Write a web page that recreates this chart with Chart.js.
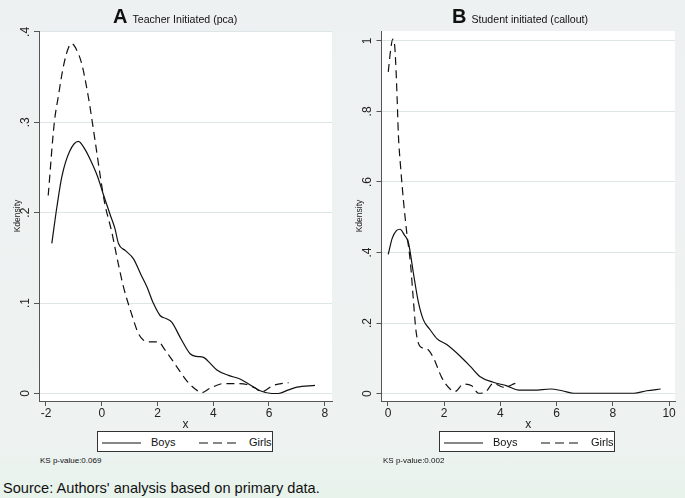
<!DOCTYPE html>
<html>
<head>
<meta charset="utf-8">
<script src="https://cdn.jsdelivr.net/npm/chart.js@4.4.1/dist/chart.umd.min.js"></script>
<style>
  html, body { margin: 0; padding: 0; }
  body {
    width: 685px; height: 498px; overflow: hidden; position: relative;
    background: linear-gradient(#eef1f1 0%, #eef2f1 88%, #e7f3eb 100%);
    font-family: "Liberation Sans", Arial, sans-serif; color: #111;
  }
  canvas { position: absolute; top: 0; }
  .ttl { position: absolute; top: 5.8px; line-height: 20px; white-space: nowrap; }
  .ttl b { font-size: 20px; font-weight: bold; }
  .ttl span { font-size: 10.6px; margin-left: 5px; }
  .leg { position: absolute; top: 431px; height: 21px; width: 176px; box-sizing: border-box;
         border: 1px solid #333; background: #fff; }
  .leg svg { position: absolute; left: 0; top: 0; }
  .leg .t { position: absolute; top: 3px; font-size: 11px; line-height: 14px; }
  .ks { position: absolute; top: 456px; font-size: 8px; line-height: 10px; }
  .src { position: absolute; left: 3px; top: 480px; font-size: 14.6px; line-height: 17px; }
</style>
</head>
<body>
<canvas id="cA" width="342" height="441" style="left:0"></canvas>
<canvas id="cB" width="343" height="441" style="left:342px"></canvas>

<div class="ttl" style="left:113px"><b>A</b><span>Teacher Initiated (pca)</span></div>
<div class="ttl" style="left:452px"><b>B</b><span>Student initiated (callout)</span></div>

<div class="leg" style="left:97px">
  <svg width="176" height="21"><line x1="4" y1="11" x2="43" y2="11" stroke="#111" stroke-width="1.2"/>
  <line x1="101" y1="11" x2="141" y2="11" stroke="#111" stroke-width="1.2" stroke-dasharray="9,5"/></svg>
  <div class="t" style="left:53px">Boys</div><div class="t" style="left:151px">Girls</div>
</div>
<div class="leg" style="left:439px">
  <svg width="176" height="21"><line x1="4" y1="11" x2="43" y2="11" stroke="#111" stroke-width="1.2"/>
  <line x1="101" y1="11" x2="141" y2="11" stroke="#111" stroke-width="1.2" stroke-dasharray="9,5"/></svg>
  <div class="t" style="left:53px">Boys</div><div class="t" style="left:151px">Girls</div>
</div>

<div class="ks" style="left:40px">KS p-value:0.069</div>
<div class="ks" style="left:383px">KS p-value:0.002</div>
<div class="src">Source: Authors' analysis based on primary data.</div>

<script>
// ---------- Data ----------
const boysA_x = [-1.79,-1.61,-1.43,-1.15,-0.84,-0.60,-0.37,-0.15,0.05,0.30,0.47,0.60,0.85,1.14,1.40,1.62,1.85,2.10,2.30,2.51,2.85,3.17,3.40,3.65,3.90,4.13,4.55,4.96,5.30,5.68,6.10,6.34,6.70,7.00,7.65];
const boysA_y = [0.166,0.206,0.240,0.268,0.279,0.270,0.256,0.240,0.221,0.198,0.183,0.166,0.158,0.149,0.132,0.118,0.100,0.086,0.083,0.079,0.060,0.044,0.041,0.040,0.033,0.026,0.020,0.016,0.010,0.003,0.000,0.000,0.004,0.007,0.009];
const girlsA_x = [-1.92,-1.70,-1.56,-1.38,-1.20,-1.08,-0.90,-0.72,-0.48,-0.24,-0.05,0.11,0.35,0.55,0.78,1.05,1.32,1.50,1.80,2.04,2.25,2.46,2.75,3.05,3.35,3.59,3.90,4.37,4.90,5.20,5.50,5.74,6.16,6.70];
const girlsA_y = [0.219,0.300,0.328,0.361,0.382,0.387,0.380,0.365,0.328,0.280,0.240,0.210,0.180,0.150,0.118,0.090,0.066,0.059,0.057,0.057,0.049,0.040,0.027,0.014,0.005,0.001,0.006,0.011,0.011,0.010,0.006,0.002,0.009,0.012];

const boysB_x = [0.01,0.15,0.30,0.43,0.58,0.73,0.90,1.08,1.26,1.50,1.74,2.09,2.57,2.92,3.28,3.75,4.23,4.65,5.20,5.78,6.20,6.60,8.75,9.20,9.70];
const boysB_y = [0.395,0.440,0.462,0.466,0.450,0.427,0.344,0.260,0.209,0.181,0.156,0.139,0.106,0.078,0.048,0.032,0.022,0.010,0.010,0.013,0.008,0.001,0.001,0.008,0.013];
const girlsB_x = [0.01,0.10,0.17,0.24,0.285,0.33,0.37,0.45,0.55,0.67,0.80,0.90,1.00,1.14,1.38,1.62,1.91,2.21,2.39,2.68,2.98,3.22,3.46,3.75,4.11,4.53];
const girlsB_y = [0.912,0.977,1.005,0.985,0.921,0.828,0.735,0.642,0.548,0.455,0.370,0.269,0.176,0.134,0.127,0.101,0.046,0.013,0.006,0.027,0.022,0.001,0.004,0.029,0.018,0.029];

const xTicksA = [-2, 0, 2, 4, 6, 8];
const yTicksA = [0, 0.1, 0.2, 0.3, 0.4];
const xTicksB = [0, 2, 4, 6, 8, 10];
const yTicksB = [0, 0.2, 0.4, 0.6, 0.8, 1];

const seriesLabels = ['Boys', 'Girls'];

// ---------- helpers ----------
function pts(xs, ys) { return xs.map((x, i) => ({x: x, y: ys[i]})); }
function fmtY(v) {
  if (v === 0) return '0';
  if (v === 1) return '1';
  return String(+v.toFixed(1)).replace(/^0/, '');
}

const plotBg = {
  id: 'plotBg',
  beforeDraw(chart) {
    const a = chart.chartArea, c = chart.ctx;
    c.save(); c.fillStyle = '#ffffff';
    c.fillRect(a.left, a.top, a.right - a.left, a.bottom - a.top);
    c.restore();
  }
};
const rotYLabels = {
  id: 'rotYLabels',
  afterDraw(chart) {
    const s = chart.scales.y, c = chart.ctx;
    c.save();
    c.font = '12px "Liberation Sans", Arial, sans-serif';
    c.fillStyle = '#222'; c.textAlign = 'center'; c.textBaseline = 'middle';
    s.ticks.forEach(t => {
      const y = s.getPixelForValue(t.value);
      c.save(); c.translate(chart.chartArea.left - 13.5, y); c.rotate(-Math.PI / 2);
      c.fillText(fmtY(t.value), 0, 0); c.restore();
    });
    c.restore();
  }
};

function makeChart(id, boys, girls, xr, yr, xt, yt, yw) {
  const line = { showLine: true, pointRadius: 0, borderColor: '#111', borderWidth: 1.2,
                 cubicInterpolationMode: 'monotone', fill: false };
  return new Chart(document.getElementById(id), {
    type: 'scatter',
    data: { datasets: [
      Object.assign({ label: seriesLabels[0], data: boys }, line),
      Object.assign({ label: seriesLabels[1], data: girls, borderDash: [8, 5] }, line)
    ]},
    options: {
      responsive: false, animation: false,
      layout: { padding: { left: 0, right: 10, top: 31, bottom: 0 } },
      plugins: { legend: { display: false }, tooltip: { enabled: false } },
      scales: {
        x: {
          type: 'linear', position: 'bottom', min: xr[0], max: xr[1],
          afterBuildTicks: s => { s.ticks = xt.map(v => ({value: v})); },
          afterFit: s => { s.height = 40; },
          ticks: { font: { size: 12, family: '"Liberation Sans", Arial, sans-serif' }, color: '#222',
                   padding: 0, maxRotation: 0, callback: v => String(v) },
          grid: { drawOnChartArea: false, drawTicks: true, tickLength: 5, tickColor: '#555' },
          border: { display: true, color: '#555', width: 1 },
          title: { display: true, text: 'x', color: '#222',
                   font: { size: 12, family: '"Liberation Sans", Arial, sans-serif' },
                   padding: { top: 0, bottom: 9 } }
        },
        y: {
          type: 'linear', min: yr[0], max: yr[1],
          afterBuildTicks: s => { s.ticks = yt.map(v => ({value: v})); },
          afterFit: s => { s.width = yw; },
          ticks: { color: 'rgba(0,0,0,0)', callback: v => fmtY(v) },
          grid: { color: '#dde6e6', lineWidth: 1, drawTicks: true, tickLength: 5, tickColor: '#555' },
          border: { display: true, color: '#555', width: 1 },
          title: { display: true, text: 'Kdensity', color: '#222',
                   font: { size: 8.5, family: '"Liberation Sans", Arial, sans-serif' },
                   padding: { top: 12.4, bottom: 0 } }
        }
      }
    },
    plugins: [plotBg, rotYLabels]
  });
}

makeChart('cA', pts(boysA_x, boysA_y), pts(girlsA_x, girlsA_y),
          [-2.25, 8.26], [-0.0083, 0.401], xTicksA, yTicksA, 39);
makeChart('cB', pts(boysB_x, boysB_y), pts(girlsB_x, girlsB_y),
          [-0.23, 10.21], [-0.021, 1.028], xTicksB, yTicksB, 39.5);
</script>
</body>
</html>
